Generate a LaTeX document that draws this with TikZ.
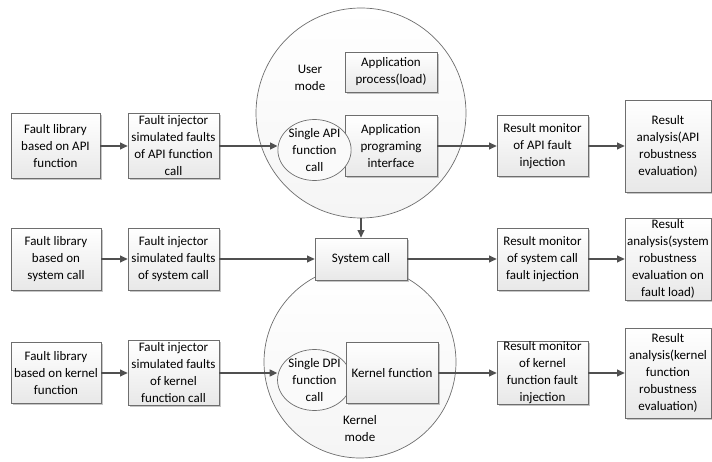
\documentclass[tikz,border=0pt]{standalone}
\usepackage{fontspec}
\setmainfont{Carlito}
\usetikzlibrary{arrows.meta}
\usetikzlibrary{shapes.geometric}
\usetikzlibrary{shadows}
\definecolor{edge}{HTML}{6E6E6E}
\definecolor{wire}{HTML}{505050}
\tikzset{blk/.style = {draw=edge, line width=0.8pt, rectangle, inner sep=0pt,
                       align=center, top color=white, bottom color=gray!18,
                       drop shadow={shadow xshift=1.6pt, shadow yshift=-1.6pt,
                                    fill=gray, opacity=0.45}}}
\tikzset{ring/.style = {draw=edge, line width=0.7pt, circle, inner sep=0pt,
                        top color=white, bottom color=gray!8}}
\tikzset{oval/.style = {draw=edge, line width=0.7pt, ellipse, inner sep=0pt,
                        align=center, fill=white!96!gray}}
\tikzset{flow/.style = {draw=wire, line width=1.1pt,
                        -{Triangle[length=7.5pt,width=7pt]}}}
\tikzset{
  every picture/.style={
    every node/.style={font=\fontsize{13}{17}\selectfont},
  }
}

\begin{document}
\begin{tikzpicture}[x=1pt, y=-1pt]
  \useasboundingbox (0,0) rectangle (712,462);

  % mode circles
  \node[ring, minimum size=210pt] (user) at (361,113) {};
  \node[ring, minimum size=192pt] (kernel) at (360,362) {};
  \node[align=center] (usertxt) at (310,78) {User\\mode};
  \node[align=center] (kerneltxt) at (360,429) {Kernel\\mode};

  % API row
  \node[blk, minimum width=89pt, minimum height=65pt] (libapi) at (55.5,146)
    {Fault library\\based on API\\function};
  \node[blk, minimum width=91pt, minimum height=65pt] (injapi) at (173.5,146)
    {Fault injector\\simulated faults\\of API function\\call};
  \node[blk, minimum width=92pt, minimum height=40pt] (appproc) at (391,72)
    {Application\\process(load)};
  \node[blk, minimum width=92pt, minimum height=61pt] (apiif) at (391,146)
    {Application\\programing\\interface};
  \node[oval, minimum width=64pt, minimum height=57pt] (apicall) at (314.5,150)
    {Single API\\function\\call};
  \node[blk, minimum width=91pt, minimum height=61pt] (monapi) at (542.5,146)
    {Result monitor\\of API fault\\injection};
  \node[blk, minimum width=86pt, minimum height=92pt] (anaapi) at (668,146)
    {Result\\analysis(API\\robustness\\evaluation)};

  % system call row
  \node[blk, minimum width=90pt, minimum height=62pt] (libsys) at (56,259)
    {Fault library\\based on\\system call};
  \node[blk, minimum width=91pt, minimum height=62pt] (injsys) at (173.5,259)
    {Fault injector\\simulated faults\\of system call};
  \node[blk, minimum width=92pt, minimum height=42pt] (syscall) at (361,259)
    {System call};
  \node[blk, minimum width=91pt, minimum height=62pt] (monsys) at (542.5,259)
    {Result monitor\\of system call\\fault injection};
  \node[blk, minimum width=86pt, minimum height=82pt] (anasys) at (668,259)
    {Result\\analysis(system\\robustness\\evaluation on\\fault load)};

  % kernel row
  \node[blk, minimum width=90pt, minimum height=61pt] (libker) at (56,373)
    {Fault library\\based on kernel\\function};
  \node[blk, minimum width=91pt, minimum height=65pt] (injker) at (173.5,373)
    {Fault injector\\simulated faults\\of kernel\\function call};
  \node[oval, minimum width=65pt, minimum height=59pt] (dpicall) at (314.5,380)
    {Single DPI\\function\\call};
  \node[blk, minimum width=92pt, minimum height=61pt] (kerfn) at (392,373)
    {Kernel function};
  \node[blk, minimum width=91pt, minimum height=62pt] (monker) at (542.5,373)
    {Result monitor\\of kernel\\function fault\\injection};
  \node[blk, minimum width=86pt, minimum height=90pt] (anaker) at (668,373)
    {Result\\analysis(kernel\\function\\robustness\\evaluation)};

  % connectors
  \draw[flow] (libapi) -- (injapi);
  \draw[flow] (injapi.east) -- (injapi.east -| apicall.west);
  \draw[flow] (apiif) -- (monapi);
  \draw[flow] (monapi) -- (anaapi);
  \draw[flow] (user) -- (syscall);

  \draw[flow] (libsys) -- (injsys);
  \draw[flow] (injsys) -- (syscall);
  \draw[flow] (syscall) -- (monsys);
  \draw[flow] (monsys) -- (anasys);

  \draw[flow] (libker) -- (injker);
  \draw[flow] (injker.east) -- (injker.east -| dpicall.west);
  \draw[flow] (kerfn) -- (monker);
  \draw[flow] (monker) -- (anaker);
\end{tikzpicture}
\end{document}
